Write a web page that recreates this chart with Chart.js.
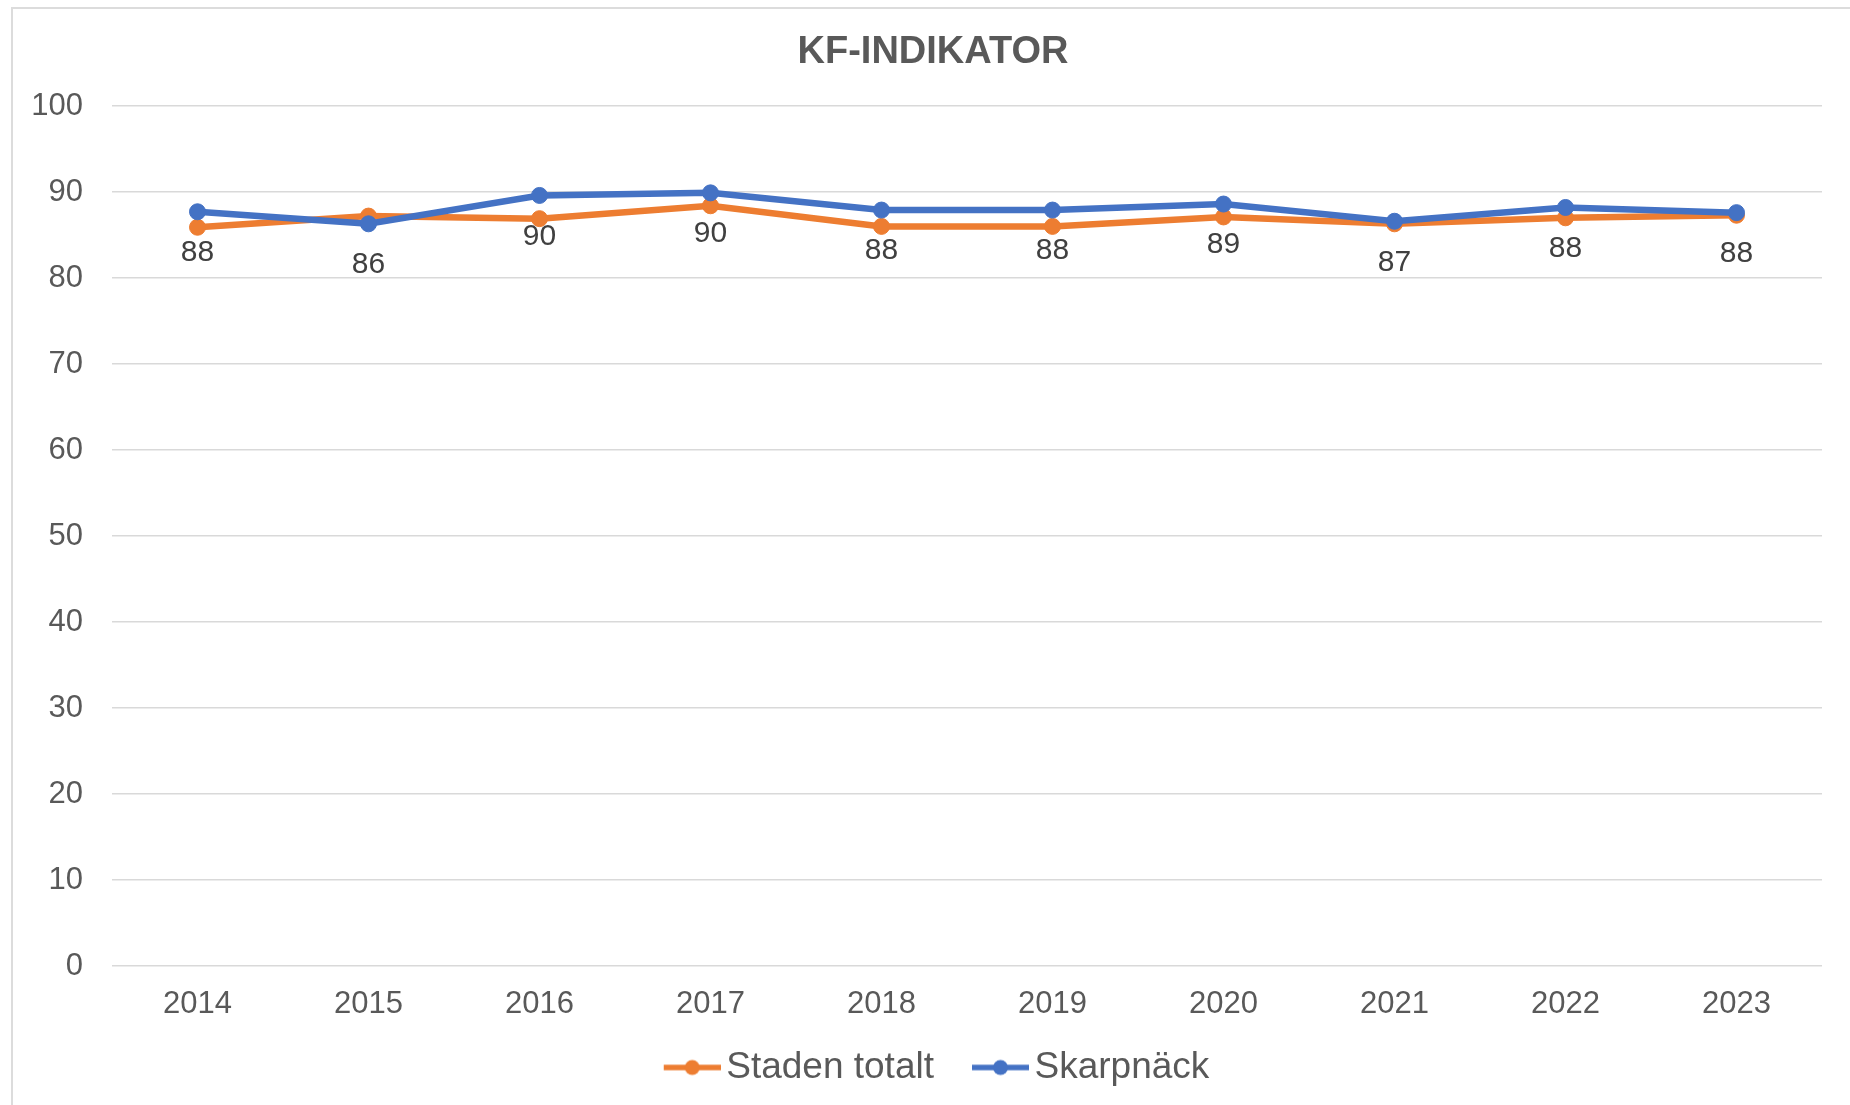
<!DOCTYPE html>
<html>
<head>
<meta charset="utf-8">
<script src="https://cdn.jsdelivr.net/npm/chart.js@4/dist/chart.umd.min.js"></script>
<style>
  html, body { margin: 0; padding: 0; background: #ffffff; overflow: hidden; width: 1850px; height: 1105px; }
  #frame { position: absolute; left: 11px; top: 7px; width: 2000px; height: 2000px; border: 2px solid #dcdcdc; box-sizing: border-box; }
  #wrap { position: absolute; left: 0; top: 0; width: 1850px; height: 1105px; }
</style>
</head>
<body>
<div id="frame"></div>
<div id="wrap"><canvas id="c" width="1850" height="1105"></canvas></div>
<script>
// ---- data ----
const chartTitle = 'KF-INDIKATOR';
const years = ['2014', '2015', '2016', '2017', '2018', '2019', '2020', '2021', '2022', '2023'];
const stadenTotalt = [85.9, 87.2, 86.9, 88.4, 86.0, 86.0, 87.1, 86.3, 87.0, 87.3];
const skarpnack = [87.7, 86.3, 89.6, 89.9, 87.9, 87.9, 88.6, 86.6, 88.2, 87.6];
const seriesNames = ['Staden totalt', 'Skarpnäck'];
const yTicks = [0, 10, 20, 30, 40, 50, 60, 70, 80, 90, 100];

const ORANGE = '#ED7D31';
const BLUE = '#4472C4';
const FONT = "Arial, 'Liberation Sans', sans-serif";

function legendGlyph(color) {
  const c = document.createElement('canvas');
  c.width = 77; c.height = 18;
  const g = c.getContext('2d');
  g.strokeStyle = color; g.lineWidth = 5.5; g.lineCap = 'butt';
  g.beginPath(); g.moveTo(20, 9); g.lineTo(77, 9); g.stroke();
  g.fillStyle = color;
  g.beginPath(); g.arc(48.5, 9, 7.5, 0, Math.PI * 2); g.fill();
  return c;
}

const dataLabelPlugin = {
  id: 'dataLabels',
  afterDatasetsDraw(chart) {
    const ctx = chart.ctx;
    const meta = chart.getDatasetMeta(1);
    ctx.save();
    ctx.font = '30px ' + FONT;
    ctx.fillStyle = '#404040';
    ctx.textAlign = 'center';
    ctx.textBaseline = 'middle';
    meta.data.forEach((pt, i) => {
      ctx.fillText(String(Math.round(skarpnack[i])), pt.x, pt.y + 41);
    });
    ctx.restore();
  }
};

new Chart(document.getElementById('c'), {
  type: 'line',
  data: {
    labels: years,
    datasets: [
      {
        label: seriesNames[0], data: stadenTotalt, order: 2,
        borderColor: ORANGE, backgroundColor: ORANGE, borderWidth: 6.5,
        pointRadius: 8, pointBackgroundColor: ORANGE, pointBorderColor: ORANGE, pointBorderWidth: 1,
        pointStyle: 'circle', tension: 0
      },
      {
        label: seriesNames[1], data: skarpnack, order: 1,
        borderColor: BLUE, backgroundColor: BLUE, borderWidth: 6.5,
        pointRadius: 8, pointBackgroundColor: BLUE, pointBorderColor: BLUE, pointBorderWidth: 1,
        pointStyle: 'circle', tension: 0
      }
    ]
  },
  options: {
    responsive: false,
    animation: false,
    events: [],
    layout: { padding: { left: 16, right: 0, top: 0, bottom: 9 } },
    plugins: {
      title: {
        display: true, text: chartTitle, color: '#595959',
        font: { family: FONT, size: 38, weight: 'bold', lineHeight: 1.2 },
        padding: { top: 29.7, bottom: 30.7 }
      },
      legend: {
        display: true, position: 'bottom',
        labels: {
          color: '#595959',
          font: { family: FONT, size: 37 },
          usePointStyle: true,
          pointStyleWidth: 51,
          padding: 31,
          generateLabels(chart) {
            return chart.data.datasets.map((ds, i) => ({
              text: ds.label,
              fillStyle: ds.borderColor,
              strokeStyle: ds.borderColor,
              fontColor: '#595959',
              lineWidth: 0,
              pointStyle: legendGlyph(ds.borderColor),
              hidden: false,
              datasetIndex: i
            }));
          }
        }
      },
      tooltip: { enabled: false }
    },
    scales: {
      x: {
        offset: true,
        grid: { display: false, drawTicks: false },
        border: { display: false },
        ticks: { color: '#595959', font: { family: FONT, size: 31 }, padding: 19.5, maxRotation: 0 },
        afterFit(scale) { scale.height = 52; }
      },
      y: {
        min: 0, max: 100,
        afterBuildTicks(scale) { scale.ticks = yTicks.map(v => ({ value: v })); },
        grid: { color: '#d9d9d9', lineWidth: 1.5, drawTicks: false },
        border: { display: false },
        ticks: { color: '#595959', font: { family: FONT, size: 31 }, padding: 29 },
        afterFit(scale) { scale.width = 96; }
      },
      yRight: {
        position: 'right', display: true,
        grid: { display: false, drawTicks: false },
        border: { display: false },
        ticks: { display: false },
        afterFit(scale) { scale.width = 28; }
      }
    }
  },
  plugins: [dataLabelPlugin]
});
</script>
</body>
</html>
